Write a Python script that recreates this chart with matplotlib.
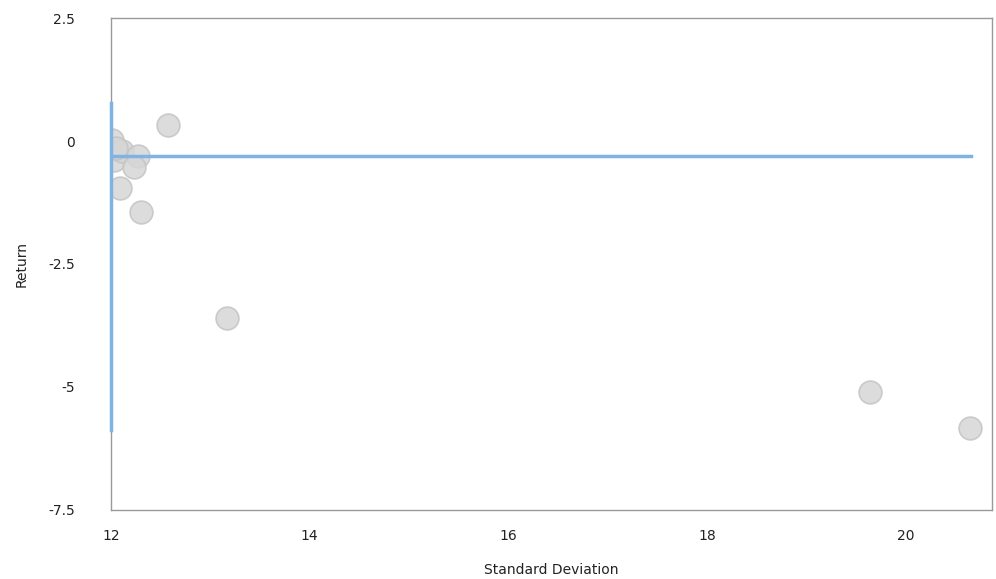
import matplotlib
matplotlib.use("Agg")
import matplotlib.pyplot as plt

# std dev / return for each portfolio
std_dev = [12.01, 12.03, 12.11, 12.27, 12.23, 12.05, 12.57, 12.09, 12.30, 13.17, 19.64, 20.65]
returns = [0.02, -0.38, -0.20, -0.30, -0.52, -0.15, 0.33, -0.96, -1.44, -3.60, -5.10, -5.83]

# blue reference lines
vline_x = 12.0
vline_y = [0.77, -5.87]
hline_y = -0.31
hline_x = [12.0, 20.66]

xticks = [12, 14, 16, 18, 20]
yticks = [2.5, 0, -2.5, -5, -7.5]
ytick_labels = ["2.5", "0", "-2.5", "-5", "-7.5"]

fig = plt.figure(figsize=(9.96, 5.79), dpi=100)
ax = fig.add_axes([0.1114, 0.1192, 0.8846, 0.8497])

ax.scatter(std_dev, returns, s=270, facecolor="#d6d6d6", edgecolor="#c4c4c4",
           linewidth=1.2, alpha=0.85, zorder=3)
ax.plot([vline_x, vline_x], vline_y, color="#7fb3e3", lw=2.5, zorder=4, clip_on=False)
ax.plot(hline_x, [hline_y, hline_y], color="#7fb3e3", lw=2.5, zorder=4)

ax.set_xlim(12, 20.87)
ax.set_ylim(-7.5, 2.5)
ax.set_xticks(xticks)
ax.set_yticks(yticks)
ax.set_yticklabels(ytick_labels)
ax.tick_params(length=0, labelsize=10, colors="#222222")
ax.tick_params(axis="y", pad=26)
ax.tick_params(axis="x", pad=14)
for s in ax.spines.values():
    s.set_color("#9a9a9a")
    s.set_linewidth(1)

ax.set_xlabel("Standard Deviation", fontsize=10, labelpad=14, color="#222222")
ax.set_ylabel("Return", fontsize=10, labelpad=14, color="#222222")

fig.savefig("out.png", dpi=100)
